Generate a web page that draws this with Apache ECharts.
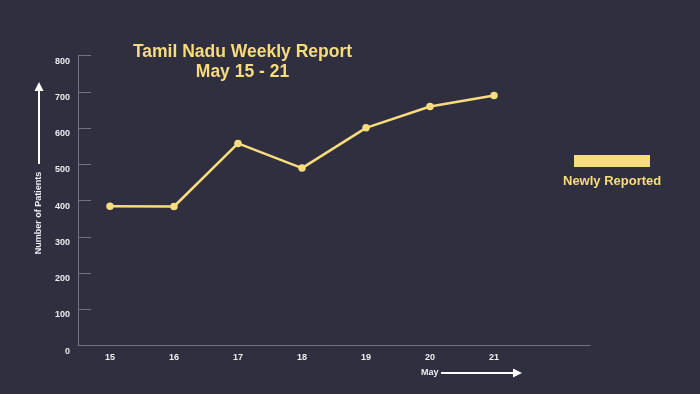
<!DOCTYPE html>
<html>
<head>
<meta charset="utf-8">
<script src="https://cdn.jsdelivr.net/npm/echarts@6/dist/echarts.min.js"></script>
<style>
html,body{margin:0;padding:0;background:#302f40;}
#chart{width:700px;height:394px;}
</style>
</head>
<body>
<div id="chart"></div>
<script>
const categories = ['15', '16', '17', '18', '19', '20', '21', ''];
const newlyReported = [385, 384, 558, 490, 601, 660, 690];
const seriesName = 'Newly Reported';
const titleLines = ['Tamil Nadu Weekly Report', 'May 15 - 21'];
const yAxisTitle = 'Number of Patients';
const xAxisTitle = 'May';

const FONT = '"Liberation Sans", Arial, sans-serif';
const YELLOW = '#f7dc7c';
const AXIS = '#727286';
const LABEL = '#ececf2';

const chart = echarts.init(document.getElementById('chart'), null, {renderer: 'canvas'});
chart.setOption({
  backgroundColor: '#302f40',
  animation: false,
  title: {
    text: titleLines.join('\n'),
    left: 237.5,
    top: 37,
    textAlign: 'center',
    textStyle: {color: YELLOW, fontFamily: FONT, fontWeight: 'bold', fontSize: 17.5, lineHeight: 20}
  },
  legend: [{
    data: [seriesName],
    left: 574,
    top: 155,
    padding: 0,
    icon: 'rect',
    itemWidth: 76,
    itemHeight: 12,
    formatter: function () { return ''; },
    itemStyle: {color: YELLOW},
    textStyle: {fontSize: 1}
  }, {
    data: [seriesName],
    left: 558,
    top: 175,
    padding: 0,
    icon: 'rect',
    itemWidth: 0,
    itemHeight: 0,
    itemGap: 0,
    textStyle: {color: YELLOW, fontFamily: FONT, fontWeight: 'bold', fontSize: 13}
  }],
  grid: {left: 78, right: 110, top: 55.7, bottom: 48.3, containLabel: false},
  xAxis: {
    type: 'category',
    data: categories,
    boundaryGap: true,
    axisLine: {lineStyle: {color: AXIS, width: 1}},
    axisTick: {inside: true, length: 8, lineStyle: {color: AXIS}},
    axisLabel: {color: LABEL, fontFamily: FONT, fontWeight: 'bold', fontSize: 9, margin: 7},
    splitLine: {show: false}
  },
  yAxis: {
    type: 'value',
    min: 0,
    max: 800,
    interval: 100,
    axisLine: {show: true, lineStyle: {color: AXIS, width: 1}},
    axisTick: {show: true, inside: true, length: 13, lineStyle: {color: AXIS}},
    axisLabel: {color: LABEL, fontFamily: FONT, fontWeight: 'bold', fontSize: 9, margin: 8, verticalAlign: 'top', padding: [1, 0, 0, 0]},
    splitLine: {show: false}
  },
  series: [{
    name: seriesName,
    type: 'line',
    data: newlyReported,
    symbol: 'circle',
    symbolSize: 7.5,
    lineStyle: {color: YELLOW, width: 2.5},
    itemStyle: {color: YELLOW}
  }],
  graphic: [
    {type: 'text', x: 39, y: 213, rotation: Math.PI / 2,
     style: {text: yAxisTitle, fill: LABEL, font: 'bold 9px ' + FONT, align: 'center', verticalAlign: 'middle'}},
    {type: 'line', shape: {x1: 39, y1: 164, x2: 39, y2: 90}, style: {stroke: '#ffffff', lineWidth: 2}},
    {type: 'polygon', shape: {points: [[39, 82], [34.5, 91], [43.5, 91]]}, style: {fill: '#ffffff'}},
    {type: 'text', x: 421, y: 373,
     style: {text: xAxisTitle, fill: LABEL, font: 'bold 9px ' + FONT, align: 'left', verticalAlign: 'middle'}},
    {type: 'line', shape: {x1: 441, y1: 373, x2: 514, y2: 373}, style: {stroke: '#ffffff', lineWidth: 2}},
    {type: 'polygon', shape: {points: [[522, 373], [513, 368.5], [513, 377.5]]}, style: {fill: '#ffffff'}}
  ]
});
</script>
</body>
</html>
